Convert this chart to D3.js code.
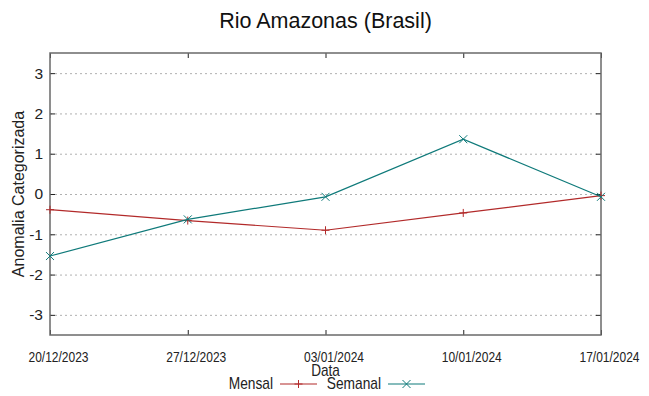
<!DOCTYPE html>
<html>
<head>
<meta charset="utf-8">
<script src="https://cdn.jsdelivr.net/npm/d3@7"></script>
<style>
body { margin: 0; background: #fff; }
svg { font-family: "Liberation Sans", Arial, sans-serif; }
.grid line { stroke: #b0b0b0; stroke-dasharray: 2,3; }
.grid path { display: none; }
.axis path { display: none; }
.axis line { stroke: #222; }
.axis text { fill: #222; }
</style>
</head>
<body>
<div id="chart"></div>
<script>
// data
let dates = ["20/12/2023", "27/12/2023", "03/01/2024", "10/01/2024", "17/01/2024"];
let mensal = [-0.39, -0.66, -0.90, -0.47, -0.04];
let semanal = [-1.54, -0.63, -0.07, 1.36, -0.07];
let yTicks = [-3, -2, -1, 0, 1, 2, 3];
let seriesNames = ["Mensal", "Semanal"];
let seriesColors = ["#b22a2a", "#0f7a7a"];

const W = 649, H = 396;
const margin = { left: 50, top: 53, right: 48, bottom: 61 };
const width = W - margin.left - margin.right;
const height = H - margin.top - margin.bottom;

const parse = d3.timeParse("%d/%m/%Y");
const fmt = d3.timeFormat("%d/%m/%Y");

let svg = d3.select("#chart")
    .append("svg")
    .attr("width", W).attr("height", H);

let g = svg.append("g")
    .attr("transform", "translate(" + margin.left + "," + margin.top + ")");

let x = d3.scaleTime()
    .domain([parse(dates[0]), parse(dates[dates.length-1])])
    .range([0, width]);

let y = d3.scaleLinear()
    .domain([-3.5, 3.5])
    .range([height, 0]);

// y gridlines
g.append("g")
    .attr("class", "grid")
    .call(d3.axisLeft(y)
	  .tickValues(yTicks)
	  .tickSize(-width)
	  .tickFormat(""));

// y-axis left + mirror on right
g.append("g")
    .attr("class", "axis")
    .style("font-size", "15.5px")
    .call(d3.axisLeft(y).tickValues(yTicks)
	  .tickFormat(function(d) { return String(d); })
	  .tickSizeInner(-5).tickSizeOuter(0).tickPadding(7));

g.append("g")
    .attr("class", "axis")
    .attr("transform", "translate(" + width + ",0)")
    .call(d3.axisRight(y).tickValues(yTicks).tickSizeInner(-5).tickSizeOuter(0).tickFormat(""));

// x-axis bottom + mirror on top
let xa = g.append("g")
    .attr("class", "axis")
    .attr("transform", "translate(0," + height + ")")
    .style("font-size", "15px")
    .call(d3.axisBottom(x)
	  .tickValues(dates.map(parse))
	  .tickFormat(fmt)
	  .tickSizeInner(-5).tickSizeOuter(0));

xa.selectAll("text")
    .attr("y", 0).attr("dy", 0)
    .attr("transform", "translate(8,26.5) scale(0.8,1)");

g.append("g")
    .attr("class", "axis")
    .call(d3.axisTop(x)
	  .tickValues(dates.map(parse))
	  .tickFormat("")
	  .tickSizeInner(-5).tickSizeOuter(0));

// border
g.append("rect")
    .attr("width", width).attr("height", height)
    .attr("fill", "none")
    .attr("stroke", "#6a6a6a")
    .attr("stroke-width", 1.5);

function plus(s) { return "M" + -s + ",0H" + s + "M0," + -s + "V" + s; }
function cross(s) { return "M" + -s + "," + -s + "L" + s + "," + s + "M" + -s + "," + s + "L" + s + "," + -s; }
let markers = [plus, cross];

[mensal, semanal].forEach(function(vals, i) {
    let pts = vals.map(function(v, j) { return { d: parse(dates[j]), v: v }; });
    g.append("path")
	.datum(pts)
	.attr("fill", "none")
	.attr("stroke", seriesColors[i])
	.attr("stroke-width", 1.2)
	.attr("d", d3.line()
	      .x(function(d) { return x(d.d); })
	      .y(function(d) { return y(d.v); }));
    g.selectAll(".m" + i)
	.data(pts)
	.enter().append("path")
	.attr("fill", "none")
	.attr("stroke", seriesColors[i])
	.attr("stroke-width", 1)
	.attr("transform", function(d) { return "translate(" + x(d.d) + "," + y(d.v) + ")"; })
	.attr("d", markers[i](4));
});

// title
svg.append("text")
    .attr("x", margin.left + width / 2).attr("y", 28)
    .attr("text-anchor", "middle")
    .style("font-size", "21.5px")
    .attr("fill", "#111")
    .text("Rio Amazonas (Brasil)");

// y label
svg.append("text")
    .attr("transform", "translate(24," + (margin.top + height / 2) + ") rotate(-90)")
    .attr("text-anchor", "middle")
    .style("font-size", "16px")
    .attr("fill", "#222")
    .text("Anomalia Categorizada");

// x label
svg.append("text")
    .attr("transform", "translate(" + (margin.left + width / 2) + ",375.5) scale(0.85,1)")
    .attr("text-anchor", "middle")
    .style("font-size", "16px")
    .attr("fill", "#222")
    .text("Data");

// legend
seriesNames.forEach(function(name, i) {
    let lx = 273 + i * 108, ly = 384;
    svg.append("text")
	.attr("transform", "translate(" + lx + "," + (ly + 4.5) + ") scale(0.86,1)")
	.attr("text-anchor", "end")
	.style("font-size", "16px")
	.attr("fill", "#222")
	.text(name);
    svg.append("line")
	.attr("x1", lx + 7).attr("x2", lx + 44)
	.attr("y1", ly).attr("y2", ly)
	.attr("stroke", seriesColors[i]).attr("stroke-width", 1.2);
    svg.append("path")
	.attr("transform", "translate(" + (lx + 25.5) + "," + ly + ")")
	.attr("fill", "none")
	.attr("stroke", seriesColors[i])
	.attr("d", markers[i](4));
});
</script>
</body>
</html>
